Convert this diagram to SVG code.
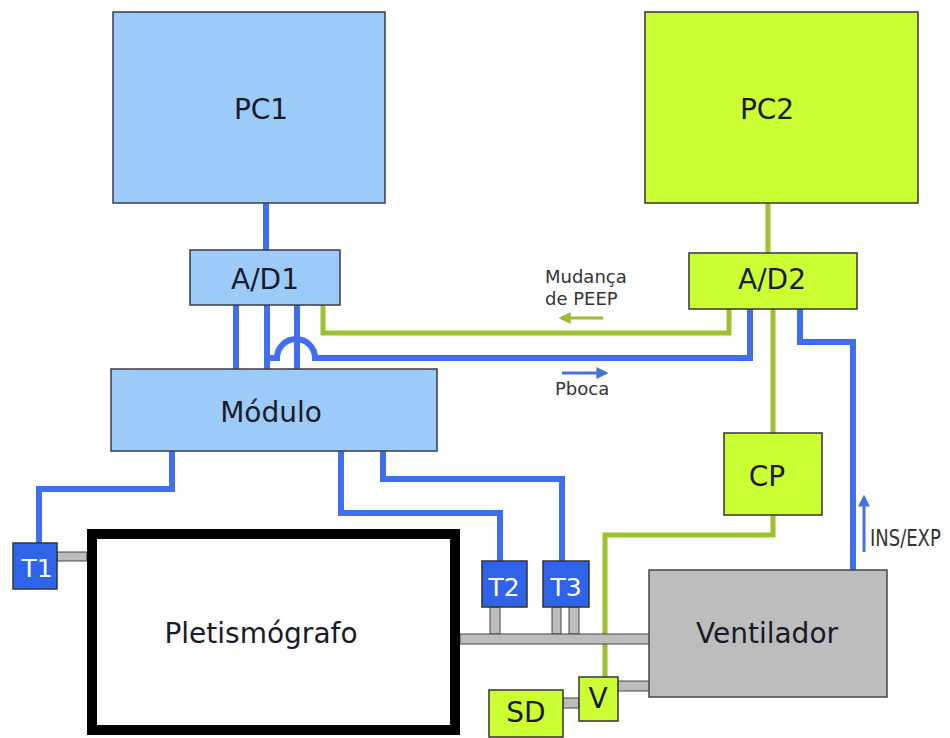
<svg xmlns="http://www.w3.org/2000/svg" width="950" height="738" viewBox="0 0 950 738">
<defs>
<marker id="ahG" viewBox="0 0 10 10" refX="8" refY="5" markerWidth="4" markerHeight="4" orient="auto"><path d="M0,0 L10,5 L0,10 z" fill="#9DBB2E"/></marker>
<marker id="ahB" viewBox="0 0 10 10" refX="8" refY="5" markerWidth="4" markerHeight="4" orient="auto"><path d="M0,0 L10,5 L0,10 z" fill="#4472D8"/></marker>
</defs>
<style>
.lb{fill:#9CCBF9;stroke:#3a3a4a;stroke-width:1.5}
.lg{fill:#CCFF33;stroke:#333;stroke-width:1.5}
.db{fill:#2F63EA;stroke:#333;stroke-width:1.5}
.gy{fill:#BDBDBD;stroke:#444;stroke-width:1.5}
.tube{fill:#BDBDBD;stroke:#444;stroke-width:1}
.t{font-family:"DejaVu Sans",Verdana,sans-serif;font-size:28px;fill:#1a1a2a;text-anchor:middle}
.tw{font-family:"DejaVu Sans",Verdana,sans-serif;font-size:25px;fill:#fff;text-anchor:middle}
.s{font-family:"DejaVu Sans",Verdana,sans-serif;font-size:18px;fill:#333}
.cb{fill:none;stroke:#3F6FEF;stroke-width:6}
.cg{fill:none;stroke:#9EC22D;stroke-width:5}
</style>
<rect width="950" height="738" fill="#fff"/>
<g id="connectors">
<path class="cb" d="M266,203 V250"/>
<path class="cb" d="M236,305 V369 M267,305 V369 M297,305 V369"/>
<path class="cb" d="M267,358 H277 A19,19 0 0 1 315,358 H750 V309"/>
<path class="cg" d="M323,305 V333 H729 V309"/>
<path class="cg" d="M768,203 V253"/>
<path class="cg" d="M773,309 V433"/>
<path class="cb" d="M800,309 V342 H853 V570"/>
<path class="cg" d="M773,515 V535 H605 V677"/>
<path class="cb" d="M172,451 V489 H39 V543"/>
<path class="cb" d="M341,451 V513 H500 V561"/>
<path class="cb" d="M383,451 V479 H562 V561"/>
<line x1="603" y1="318" x2="561" y2="318" stroke="#9DBB2E" stroke-width="3" marker-end="url(#ahG)"/>
<line x1="562" y1="373" x2="606" y2="373" stroke="#4472D8" stroke-width="3" marker-end="url(#ahB)"/>
<line x1="864" y1="552" x2="864" y2="497" stroke="#4472D8" stroke-width="3" marker-end="url(#ahB)"/>
</g>
<g id="tubes">
<rect class="tube" x="57" y="552" width="30" height="9"/>
<rect class="tube" x="490" y="607" width="10" height="27"/>
<rect class="tube" x="552" y="607" width="9" height="27"/>
<rect class="tube" x="569" y="607" width="10" height="27"/>
<rect class="tube" x="460" y="634" width="190" height="10"/>
<rect class="tube" x="618" y="681" width="32" height="10"/>
<rect class="tube" x="563" y="698" width="16" height="10"/>
</g>
<g id="labels">
<text class="s" x="545" y="283">Mudança</text>
<text class="s" x="545" y="305">de PEEP</text>
<text class="s" x="555" y="395">Pboca</text>
<text class="s" transform="translate(870,546) scale(1,1.3)" font-size="18">INS/EXP</text>
</g>
<g id="PC1"><rect class="lb" x="113" y="12" width="272" height="191"/><text class="t" x="261" y="119">PC1</text></g>
<g id="PC2"><rect class="lg" x="645" y="12" width="273" height="191"/><text class="t" x="767" y="119">PC2</text></g>
<g id="AD1"><rect class="lb" x="190" y="250" width="150" height="55"/><text class="t" x="265" y="289">A/D1</text></g>
<g id="AD2"><rect class="lg" x="689" y="253" width="168" height="56"/><text class="t" x="772" y="289">A/D2</text></g>
<g id="Modulo"><rect class="lb" x="111" y="369" width="326" height="82"/><text class="t" x="271" y="422">Módulo</text></g>
<g id="CP"><rect class="lg" x="724" y="433" width="98" height="82"/><text class="t" x="767" y="486">CP</text></g>
<g id="T1"><rect class="db" x="13" y="543" width="44" height="46"/><text class="tw" x="37" y="577">T1</text></g>
<g id="T2"><rect class="db" x="482" y="561" width="45" height="46"/><text class="tw" x="504" y="596">T2</text></g>
<g id="T3"><rect class="db" x="543" y="561" width="46" height="46"/><text class="tw" x="566" y="596">T3</text></g>
<g id="Pletismografo"><rect x="92" y="534" width="363" height="196" fill="#fff" stroke="#000" stroke-width="10"/><text class="t" x="261" y="643" font-size="27">Pletismógrafo</text></g>
<g id="Ventilador"><rect class="gy" x="649" y="570" width="238" height="127"/><text class="t" x="767" y="643">Ventilador</text></g>
<g id="V"><rect class="lg" x="579" y="677" width="39" height="44"/><text class="t" x="598" y="708">V</text></g>
<g id="SD"><rect class="lg" x="489" y="690" width="74" height="47"/><text class="t" x="526" y="722">SD</text></g>
</svg>
